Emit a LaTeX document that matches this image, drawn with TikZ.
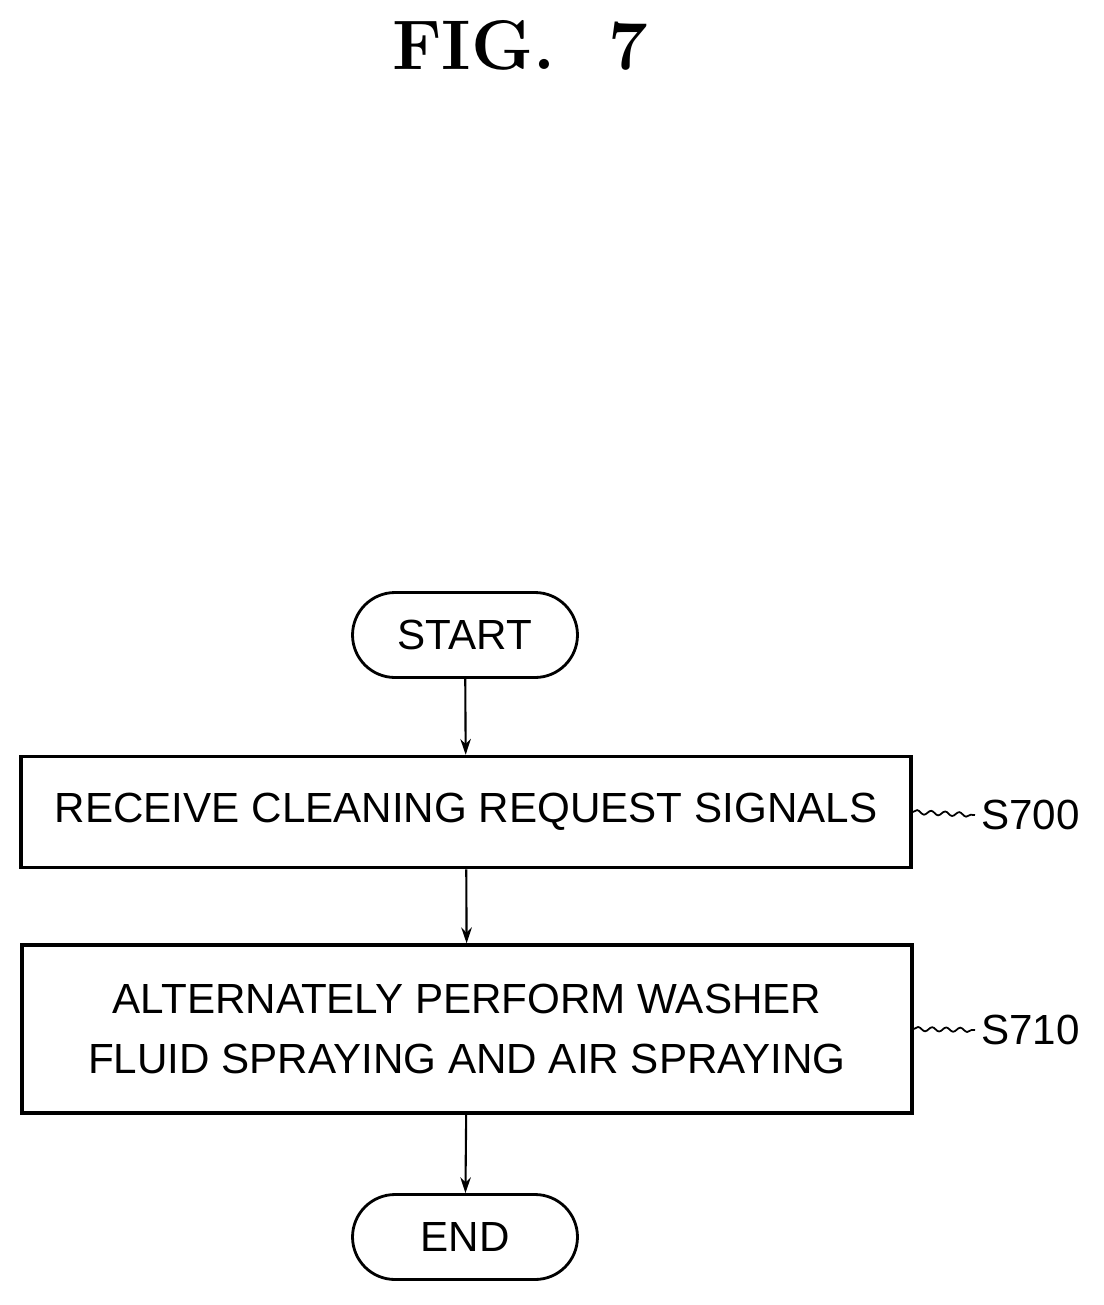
\documentclass[tikz,border=0pt]{standalone}
\usepackage{fontspec}
\setsansfont{Liberation Sans}
\usetikzlibrary{positioning,shapes.misc,decorations.pathmorphing,arrows.meta}

\begin{document}
\begin{tikzpicture}[x=0.02cm,y=-0.02cm,>={Stealth[length=9pt,width=6pt]},
  every node/.style={font=\sffamily\fontsize{24}{30}\selectfont},
  term/.style={draw,line width=1.6pt,rounded rectangle,minimum width=4.5cm,minimum height=1.7cm,inner sep=0pt},
  stepbox/.style={draw,line width=2pt,minimum width=17.8cm,align=center,inner sep=0pt},
  lead/.style={decorate,decoration={snake,amplitude=1.2pt,segment length=8pt},line width=1pt}]
\useasboundingbox (0,0) rectangle (1103,1305);
\node[font=\rmfamily\bfseries\fontsize{40}{44}\selectfont] (fig) at (520,45) {FIG.\ \ 7};

\node[term] (start) at (465,635) {START};
\node[stepbox,minimum height=2.22cm] (s700) at (466,812) {RECEIVE CLEANING REQUEST SIGNALS};
\node[stepbox,minimum height=3.36cm] (s710) at (467,1029) {ALTERNATELY PERFORM WASHER\\[4pt]FLUID SPRAYING AND AIR SPRAYING};
\node[term] (end) at (465,1237) {END};

\node[anchor=west] (l700) at (975,815) {S700};
\node[anchor=west] (l710) at (975,1030) {S710};

\draw[->,line width=1.2pt] (start) -- (s700);
\draw[->,line width=1.2pt] (s700) -- (s710);
\draw[->,line width=1.2pt] (s710) -- (end);
\draw[lead] (s700.east) -- (l700.west);
\draw[lead] (s710.east) -- (l710.west);
\end{tikzpicture}
\end{document}
